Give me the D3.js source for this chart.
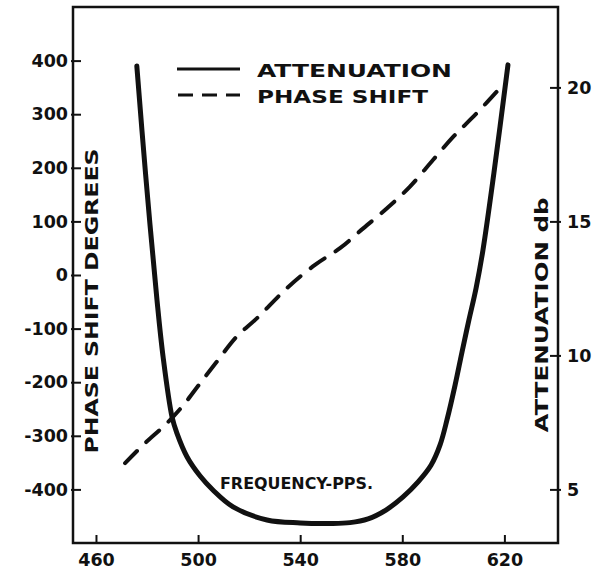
<!DOCTYPE html>
<html>
<head>
<meta charset="utf-8">
<script src="https://cdn.jsdelivr.net/npm/d3@7"></script>
<style>
  html, body { margin: 0; padding: 0; background: #fff; }
  svg { display: block; }
  text { font-family: "DejaVu Sans", sans-serif; font-weight: bold; fill: #111; }
</style>
</head>
<body>
<svg id="chart" width="592" height="574"></svg>
<script>
// Frequency (pps) samples for the attenuation curve and its values in dB
const attenFreq = [476, 479.4, 483.9, 486.3, 489.8, 491.7, 495.7, 500.8, 505.8, 513.7, 527, 540, 551.7, 559.5, 566.6, 573.6, 580.3, 586.2, 591.3, 594.8, 597.5, 600.7, 603.4, 606.1, 608.9, 611.6, 615.9, 621.4];
const attenDb   = [20.8, 16.8, 12.07, 9.94, 7.7, 7.1, 6.21, 5.5, 4.98, 4.35, 3.86, 3.75, 3.73, 3.76, 3.9, 4.23, 4.72, 5.28, 5.91, 6.66, 7.59, 8.9, 10.13, 11.32, 12.51, 13.93, 16.81, 20.84];

// Frequency (pps) samples for the phase-shift curve and its values in degrees
const phaseFreq = [471.4, 478.5, 487.7, 494.2, 500.8, 507.3, 515.1, 523, 534.7, 545.8, 555.6, 564.7, 573.9, 583, 592.1, 600, 609.2, 618.9];
const phaseDeg  = [-351, -317, -277, -243, -202, -162, -115, -81, -25, 19, 50, 87, 124, 165, 215, 258, 302, 352];

// Tick values
const freqTicks  = [460, 500, 540, 580, 620];
const phaseTicks = [400, 300, 200, 100, 0, -100, -200, -300, -400];
const dbTicks    = [20, 15, 10, 5];

const svg = d3.select("#chart");
const plotLeft = 73, plotRight = 558, plotTop = 7, plotBottom = 543;

const x  = d3.scaleLinear().domain([451, 641]).range([plotLeft, plotRight]);
const yP = d3.scaleLinear().domain([-500, 500]).range([plotBottom, plotTop]);
const yA = d3.scaleLinear().domain([3, 23]).range([plotBottom, plotTop]);

const fmt = d => (d < 0 ? "-" + Math.abs(d) : String(d));

// Axes (ticks point inward)
const gx = svg.append("g").attr("transform", `translate(0,${plotBottom})`)
  .call(d3.axisBottom(x).tickValues(freqTicks).tickSize(-8).tickPadding(11).tickFormat(d => d));
const gl = svg.append("g").attr("transform", `translate(${plotLeft},0)`)
  .call(d3.axisLeft(yP).tickValues(phaseTicks).tickSize(-8).tickPadding(5).tickFormat(fmt));
const gr = svg.append("g").attr("transform", `translate(${plotRight},0)`)
  .call(d3.axisRight(yA).tickValues(dbTicks).tickSize(-8).tickPadding(9).tickFormat(d => d));

[gx, gl, gr].forEach(g => {
  g.select(".domain").remove();
  g.selectAll(".tick line").attr("stroke", "#111").attr("stroke-width", 2);
  g.selectAll(".tick text").style("font-size", "17.5px").attr("fill", "#111");
});
gl.selectAll(".tick line").attr("x1", -2);
gr.selectAll(".tick line").attr("x1", 3);

// Frame
svg.append("rect")
  .attr("x", plotLeft).attr("y", plotTop)
  .attr("width", plotRight - plotLeft).attr("height", plotBottom - plotTop)
  .attr("fill", "none").attr("stroke", "#111").attr("stroke-width", 2.5);

// Curves
const attenLine = d3.line()
  .x((d, i) => x(attenFreq[i]))
  .y(d => yA(d))
  .curve(d3.curveCatmullRom.alpha(0.5));
svg.append("path")
  .attr("d", attenLine(attenDb))
  .attr("fill", "none").attr("stroke", "#111")
  .attr("stroke-width", 5).attr("stroke-linecap", "round");

const phaseLine = d3.line()
  .x((d, i) => x(phaseFreq[i]))
  .y(d => yP(d))
  .curve(d3.curveCatmullRom.alpha(0.5));
svg.append("path")
  .attr("d", phaseLine(phaseDeg))
  .attr("fill", "none").attr("stroke", "#111")
  .attr("stroke-width", 4).attr("stroke-linecap", "round")
  .attr("stroke-dasharray", "17,13");

// Legend
svg.append("line").attr("x1", 177).attr("x2", 240).attr("y1", 69).attr("y2", 69)
  .attr("stroke", "#111").attr("stroke-width", 3);
svg.append("line").attr("x1", 178).attr("x2", 240).attr("y1", 95).attr("y2", 95)
  .attr("stroke", "#111").attr("stroke-width", 3).attr("stroke-dasharray", "15,9");
svg.append("text").attr("x", 257).attr("y", 77).style("font-size", "18px")
  .attr("textLength", 195).attr("lengthAdjust", "spacingAndGlyphs").text("ATTENUATION");
svg.append("text").attr("x", 257).attr("y", 103).style("font-size", "18.5px")
  .attr("textLength", 171).attr("lengthAdjust", "spacingAndGlyphs").text("PHASE SHIFT");

// Axis titles
svg.append("text").attr("transform", "translate(98,301) rotate(-90)")
  .attr("text-anchor", "middle").style("font-size", "18px")
  .attr("textLength", 305).attr("lengthAdjust", "spacingAndGlyphs").text("PHASE SHIFT DEGREES");
svg.append("text").attr("transform", "translate(548,315) rotate(-90)")
  .attr("text-anchor", "middle").style("font-size", "18px")
  .attr("textLength", 235).attr("lengthAdjust", "spacingAndGlyphs").text("ATTENUATION db");
svg.append("text").attr("x", 220).attr("y", 489).style("font-size", "16.5px")
  .attr("textLength", 153).attr("lengthAdjust", "spacingAndGlyphs").text("FREQUENCY-PPS.");
</script>
</body>
</html>
